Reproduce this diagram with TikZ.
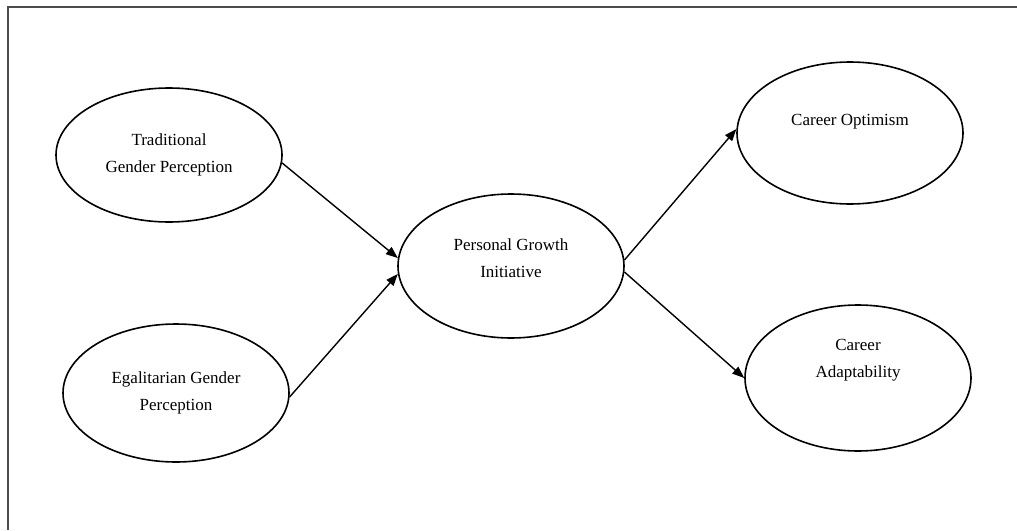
\documentclass[tikz,border=0pt]{standalone}
\usepackage{fontspec}
\setmainfont{Liberation Serif}
\usetikzlibrary{shapes.geometric,arrows.meta}

\tikzset{
  latent/.style={draw, ellipse, line width=1.6pt, inner sep=0pt, align=center,
    minimum width=226pt, font=\fontsize{17}{27}\selectfont},
  path/.style={line width=1.4pt, -{Triangle[length=12pt,width=9pt]}},
  frame/.style={line width=2.2pt, black!70}
}

\begin{document}
\begin{tikzpicture}[x=1pt,y=-1pt]
                \useasboundingbox (0,0) rectangle (1017,530);
                \draw[frame] (1017,7) -- (8,7) -- (8,530);
                \node[latent, minimum height=134pt] (trad) at (169,155) {Traditional\\Gender Perception};
                \node[latent, minimum height=138pt] (egal) at (176,393) {Egalitarian Gender\\Perception};
                \node[latent, minimum height=144pt, text depth=16pt] (pgi) at (511,266) {Personal Growth\\Initiative};
                \node[latent, minimum height=142pt, text depth=26pt] (opt) at (850,133) {Career Optimism};
                \node[latent, minimum height=146pt, text depth=40pt] (adapt) at (858,378) {Career\\Adaptability};
                \draw[path] (trad.356) -- (pgi.176);
                \draw[path] (egal.358) -- (pgi.184);
                \draw[path] (pgi.3) -- (opt.178);
                \draw[path] (pgi.357) -- (adapt.180);
            \end{tikzpicture}
\end{document}
